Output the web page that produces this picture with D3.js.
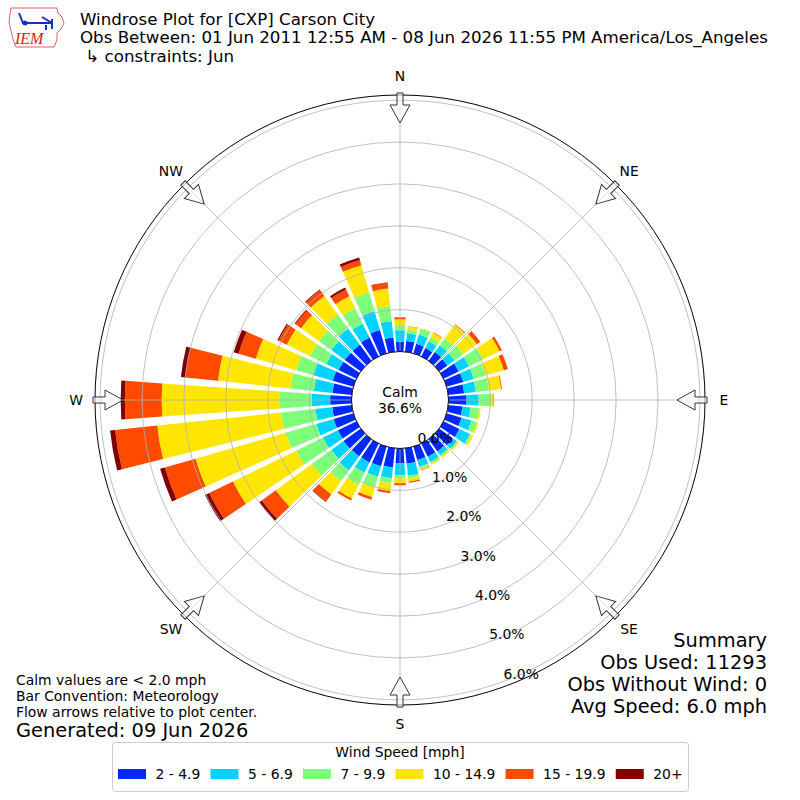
<!DOCTYPE html>
<html><head><meta charset="utf-8">
<script src="https://cdn.jsdelivr.net/npm/d3@7"></script>
<style>
body{margin:0;background:#fff}
svg{font-family:"DejaVu Sans",sans-serif}
</style>
</head><body>
<svg id="c" width="800" height="800"></svg>
<script>
// ---- data ----
const directions = [0,10,20,30,40,50,60,70,80,90,100,110,120,130,140,150,160,170,180,190,200,210,220,230,240,250,260,270,280,290,300,310,320,330,340,350];
const speedBins = ["2 - 4.9","5 - 6.9","7 - 9.9","10 - 14.9","15 - 19.9","20+"];
const binColors = ["#0028ff","#00d4ff","#7dff7a","#ffe600","#ff4a00","#800000"];
// percent of observations per direction, per speed bin
const spd2to5   = [0.23,0.26,0.24,0.22,0.26,0.24,0.40,0.41,0.38,0.43,0.34,0.37,0.42,0.40,0.36,0.35,0.33,0.37,0.35,0.46,0.49,0.50,0.50,0.51,0.49,0.49,0.47,0.51,0.46,0.51,0.47,0.47,0.47,0.50,0.58,0.34];
const spd5to7   = [0.28,0.19,0.23,0.18,0.20,0.21,0.28,0.26,0.28,0.29,0.20,0.25,0.28,0.12,0.12,0.14,0.17,0.29,0.29,0.26,0.26,0.27,0.42,0.36,0.40,0.43,0.40,0.44,0.45,0.48,0.33,0.40,0.48,0.37,0.47,0.40];
const spd7to10  = [0.12,0.08,0.14,0.11,0.20,0.26,0.37,0.30,0.32,0.29,0.20,0.13,0.04,0.03,0.03,0.04,0.05,0.06,0.07,0.12,0.25,0.32,0.31,0.57,0.71,0.76,0.82,0.76,0.55,0.43,0.43,0.36,0.41,0.41,0.46,0.36];
const spd10to15 = [0.14,0.08,0.02,0.12,0.40,0.40,0.44,0.45,0.29,0.07,0.04,0.04,0.05,0.03,0.04,0.03,0.03,0.08,0.12,0.19,0.25,0.37,0.40,1.07,1.68,2.24,2.98,2.82,1.75,1.00,0.62,0.53,0.55,0.32,0.68,0.42];
const spd15to20 = [0.04,0.01,0.00,0.01,0.02,0.10,0.06,0.10,0.02,0.01,0.00,0.00,0.00,0.00,0.00,0.00,0.01,0.03,0.04,0.05,0.07,0.05,0.21,0.41,0.63,0.76,1.01,0.88,0.78,0.43,0.22,0.17,0.17,0.18,0.13,0.14];
const spd20plus = [0.005,0,0,0,0,0,0,0,0,0,0,0,0,0,0,0,0,0,0.005,0,0,0,0.01,0.07,0.11,0.12,0.12,0.10,0.11,0.12,0.03,0.02,0.02,0.05,0.06,0.01];
const radialTicks = [0,1,2,3,4,5,6];
const compassLabels = ["N","NE","E","SE","S","SW","W","NW"];
const compassAngles = [0,45,90,135,180,225,270,315];
const calmPct = "36.6%";
const titleLines = ["Windrose Plot for [CXP] Carson City",
  "Obs Between: 01 Jun 2011 12:55 AM - 08 Jun 2026 11:55 PM America/Los_Angeles",
  "\u00a0\u21b3 constraints: Jun"];
const summaryLines = ["Summary","Obs Used: 11293","Obs Without Wind: 0","Avg Speed: 6.0 mph"];
const noteLines = ["Calm values are < 2.0 mph","Bar Convention: Meteorology","Flow arrows relative to plot center."];
const generated = "Generated: 09 Jun 2026";

// ---- build ----
const svg = d3.select("#c");
const cx = 400, cy = 400;
const rad = Math.PI/180;
const fs10 = 13.9, fs12 = 16.67, fs14 = 19.4;
const r = d3.scaleLinear().domain([0,6]).range([48.5, 299.9]);
const outerR = 305;
const keys = ["s0","s1","s2","s3","s4","s5"];
const series = [spd2to5,spd5to7,spd7to10,spd10to15,spd15to20,spd20plus];
const rows = directions.map((d,i)=>{const o={dir:d}; keys.forEach((k,j)=>o[k]=series[j][i]); return o;});
const stacked = d3.stack().keys(keys)(rows);
const halfOpen = 4;

const g = svg.append("g").attr("transform",`translate(${cx},${cy})`);
const arc = d3.arc();

// bars
g.selectAll("g.layer").data(stacked).join("g").attr("class","layer")
  .attr("fill",(d,i)=>binColors[i])
  .selectAll("path").data(d=>d.filter(p=>p[1]-p[0]>0)).join("path")
  .attr("d",p=>arc({innerRadius:r(p[0]),outerRadius:r(p[1]),
     startAngle:(p.data.dir-halfOpen)*rad,endAngle:(p.data.dir+halfOpen)*rad}));

// grid (on top of bars)
const grid = g.append("g").attr("fill","none").attr("stroke","#b0b0b0").attr("stroke-width",0.8);
grid.selectAll("circle").data(radialTicks.filter(t=>t>0)).join("circle").attr("r",d=>r(d));
grid.selectAll("line").data(compassAngles).join("line")
  .attr("x1",d=>r(0)*Math.sin(d*rad)).attr("y1",d=>-r(0)*Math.cos(d*rad))
  .attr("x2",d=>outerR*Math.sin(d*rad)).attr("y2",d=>-outerR*Math.cos(d*rad));

// outer frame
g.append("circle").attr("r",outerR).attr("fill","none").attr("stroke","#000").attr("stroke-width",1);

// calm circle
g.append("circle").attr("r",r(0)).attr("fill","#fff").attr("stroke","#000").attr("stroke-width",1);
g.append("text").attr("text-anchor","middle").attr("dominant-baseline","central").attr("y",-8)
  .attr("font-size",fs10).text("Calm");
g.append("text").attr("text-anchor","middle").attr("dominant-baseline","central").attr("y",8)
  .attr("font-size",fs10).text(calmPct);

// radial tick labels
const labAng = 160*rad;
g.selectAll("text.rt").data(radialTicks).join("text").attr("class","rt")
  .attr("x",d=>r(d)*Math.sin(labAng)+1).attr("y",d=>-r(d)*Math.cos(labAng)-8)
  .attr("dominant-baseline","central").attr("font-size",fs10)
  .text(d=>d.toFixed(1)+"%");

// compass arrows
const arrowPts = [[-3,-307],[3,-307],[3,-295],[10,-295],[0,-277],[-10,-295],[-3,-295]];
g.selectAll("path.arrow").data(compassAngles).join("path").attr("class","arrow")
  .attr("d","M"+arrowPts.map(p=>p.join(",")).join("L")+"Z")
  .attr("transform",d=>`rotate(${d})`)
  .attr("fill","#fff").attr("fill-opacity",0.6).attr("stroke","#333").attr("stroke-width",1);

// compass labels
g.selectAll("text.cl").data(compassAngles).join("text").attr("class","cl")
  .attr("x",d=>324*Math.sin(d*rad)).attr("y",d=>-324*Math.cos(d*rad))
  .attr("text-anchor","middle").attr("dominant-baseline","central").attr("font-size",fs10)
  .text((d,i)=>compassLabels[i]);

// title
svg.selectAll("text.title").data(titleLines).join("text").attr("class","title")
  .attr("x",80).attr("y",(d,i)=>25+i*18.3).attr("font-size",fs12).text(d=>d);

// summary
svg.selectAll("text.sum").data(summaryLines).join("text").attr("class","sum")
  .attr("x",767).attr("y",(d,i)=>647+i*22).attr("text-anchor","end").attr("font-size",fs14).text(d=>d);

// notes
svg.selectAll("text.note").data(noteLines).join("text").attr("class","note")
  .attr("x",16).attr("y",(d,i)=>685+i*16).attr("font-size",fs10).text(d=>d);
svg.append("text").attr("x",16).attr("y",737).attr("font-size",fs14).text(generated);

// legend
const leg = svg.append("g");
leg.append("rect").attr("x",112.5).attr("y",742.5).attr("width",576).attr("height",49).attr("rx",3)
  .attr("fill","#fff").attr("stroke","#cccccc").attr("stroke-width",1);
leg.append("text").attr("x",400).attr("y",752).attr("text-anchor","middle").attr("dominant-baseline","central")
  .attr("font-size",fs10).text("Wind Speed [mph]");
let lx = 118;
speedBins.forEach((s,i)=>{
  leg.append("rect").attr("x",lx).attr("y",769).attr("width",28).attr("height",10).attr("fill",binColors[i]);
  const t = leg.append("text").attr("x",lx+37.5).attr("y",774).attr("dominant-baseline","central")
    .attr("font-size",fs10).text(s);
  lx = lx + 37.5 + t.node().getComputedTextLength() + 10.2;
});

// logo (approximation)
const logo = svg.append("g");
logo.append("path").attr("d","M11,8 L57,8 L58,13 L62,17 L64,23 L61,29 L57,33 L57,40 L54,47 L16,47 L13,39 L11,31 L9,22 L10,14 Z")
  .attr("fill","none").attr("stroke","#e06060").attr("stroke-width",1);
logo.append("text").attr("x",15).attr("y",44).attr("font-family","Liberation Serif,serif").attr("font-style","italic")
  .attr("font-size",16).attr("fill","#d42020").text("IEM");
logo.append("path").attr("d","M22,23 L52,23 M42,17 L52,23 M52,19 L52,29 M46,25 L46,30 M19,13 L23,23")
  .attr("stroke","#1a2cd0").attr("stroke-width",2).attr("fill","none");
logo.append("circle").attr("cx",25).attr("cy",23).attr("r",2.5).attr("fill","#1a2cd0");
</script>
</body></html>
